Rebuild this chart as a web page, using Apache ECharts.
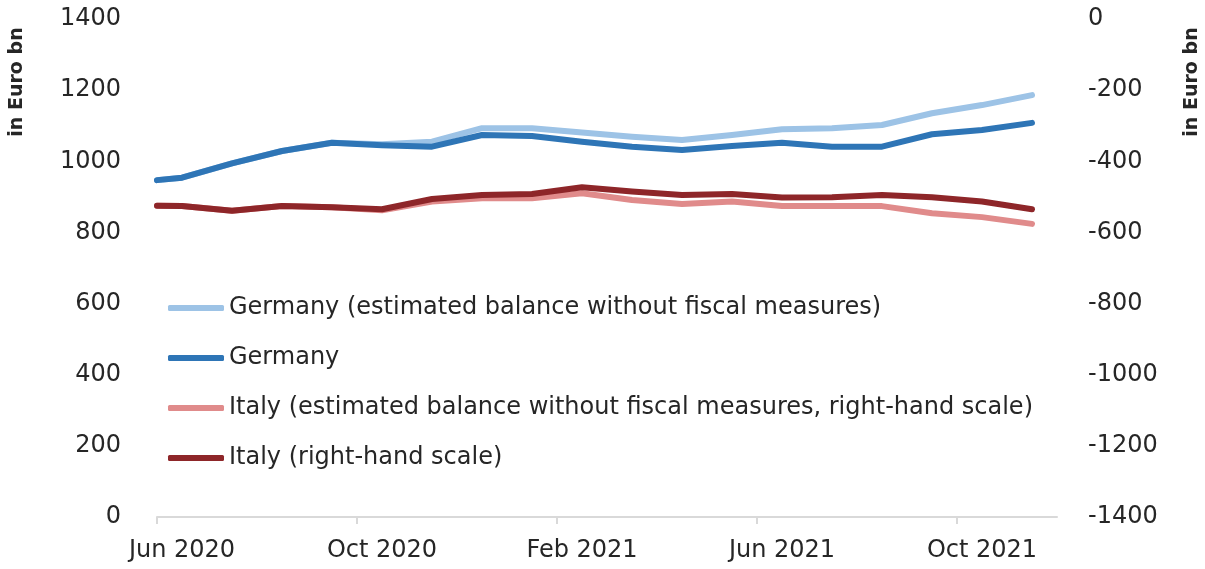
<!DOCTYPE html>
<html>
<head>
<meta charset="utf-8">
<script src="https://cdn.jsdelivr.net/npm/echarts@6/dist/echarts.min.js"></script>
<style>
  html, body { margin: 0; padding: 0; background: #fff; }
  #chart { width: 1205px; height: 569px; }
</style>
</head>
<body>
<div id="chart"></div>
<script>
// months since Jun 2020 (0 = start of Jun 2020)
var months = [0, 0.5, 1.5, 2.5, 3.5, 4.5, 5.5, 6.5, 7.5, 8.5, 9.5, 10.5, 11.5, 12.5, 13.5, 14.5, 15.5, 16.5, 17.5];

// Germany, left scale
var deNoFiscal = [947, 954, 994, 1029, 1052, 1048, 1055, 1093, 1093, 1081, 1069, 1060, 1074, 1090, 1093, 1102, 1135, 1158, 1186];
var deActual   = [947, 954, 994, 1029, 1052, 1045, 1041, 1074, 1071, 1055, 1041, 1032, 1043, 1052, 1041, 1041, 1076, 1088, 1108];

// Italy, right scale
var itNoFiscal = [-525, -526, -539, -526, -529, -538, -513, -504, -504, -490, -509, -520, -513, -526, -526, -526, -546, -557, -576];
var itActual   = [-525, -526, -539, -526, -529, -535, -506, -495, -492, -473, -485, -495, -492, -502, -501, -495, -501, -513, -535];

var tickPos = [0, 4, 8, 12, 16];
var labelPos = [0.5, 4.5, 8.5, 12.5, 16.5];
var tickLabels = ['Jun 2020', 'Oct 2020', 'Feb 2021', 'Jun 2021', 'Oct 2021'];

var seriesNames = [
  'Germany (estimated balance without fiscal measures)',
  'Germany',
  'Italy (estimated balance without fiscal measures, right-hand scale)',
  'Italy (right-hand scale)'
];
var colors = ['#9DC3E6', '#2E75B6', '#E08B8B', '#8E2629'];

function pairs(vals) {
  return vals.map(function (v, i) { return [months[i], v]; });
}

var FONT = 'DejaVu Sans';
var TXT = '#262626';

var myChart = echarts.init(document.getElementById('chart'));

function makeSeries(idx, vals, axisIdx) {
  return {
    name: seriesNames[idx],
    type: 'line',
    yAxisIndex: axisIdx,
    data: pairs(vals),
    symbol: 'none',
    smooth: false,
    lineStyle: { color: colors[idx], width: 6, cap: 'round', join: 'round' },
    itemStyle: { color: colors[idx] },
    z: 2 + idx
  };
}

var option = {
  animation: false,
  textStyle: { fontFamily: FONT },
  grid: { left: 157, right: 148, top: 19, bottom: 52 },
  legend: {
    orient: 'vertical',
    left: 163,
    top: 290,
    icon: 'roundRect',
    itemWidth: 56,
    itemHeight: 6,
    itemGap: 24,
    textStyle: { fontFamily: FONT, fontSize: 24, color: TXT, lineHeight: 26 },
    data: seriesNames
  },
  xAxis: {
    type: 'value',
    min: 0,
    max: 18,
    splitLine: { show: false },
    axisLine: { show: true, lineStyle: { color: '#D9D9D9', width: 2 } },
    axisTick: { show: true, length: 7, customValues: tickPos, lineStyle: { color: '#D9D9D9', width: 2 } },
    axisLabel: {
      customValues: labelPos,
      margin: 22,
      fontFamily: FONT,
      fontSize: 24,
      color: TXT,
      formatter: function (v) {
        var i = labelPos.indexOf(v);
        return i >= 0 ? tickLabels[i] : '';
      }
    }
  },
  yAxis: [{
    type: 'value',
    min: 0,
    max: 1400,
    interval: 200,
    splitLine: { show: false },
    axisLine: { show: false },
    axisTick: { show: false },
    axisLabel: { margin: 36, fontFamily: FONT, fontSize: 24, color: TXT, formatter: function (v) { return String(v); } }
  }, {
    type: 'value',
    min: -1400,
    max: 0,
    interval: 200,
    position: 'right',
    splitLine: { show: false },
    axisLine: { show: false },
    axisTick: { show: false },
    axisLabel: { margin: 31, fontFamily: FONT, fontSize: 24, color: TXT, formatter: function (v) { return String(v); } }
  }],
  graphic: [{
    type: 'text',
    x: 17, y: 82,
    rotation: Math.PI / 2,
    style: { text: 'in Euro bn', font: 'bold 19px "DejaVu Sans"', fill: TXT, textAlign: 'center', textVerticalAlign: 'middle' }
  }, {
    type: 'text',
    x: 1192, y: 82,
    rotation: Math.PI / 2,
    style: { text: 'in Euro bn', font: 'bold 19px "DejaVu Sans"', fill: TXT, textAlign: 'center', textVerticalAlign: 'middle' }
  }],
  series: [
    makeSeries(0, deNoFiscal, 0),
    makeSeries(1, deActual, 0),
    makeSeries(2, itNoFiscal, 1),
    makeSeries(3, itActual, 1)
  ]
};

myChart.setOption(option);
</script>
</body>
</html>
